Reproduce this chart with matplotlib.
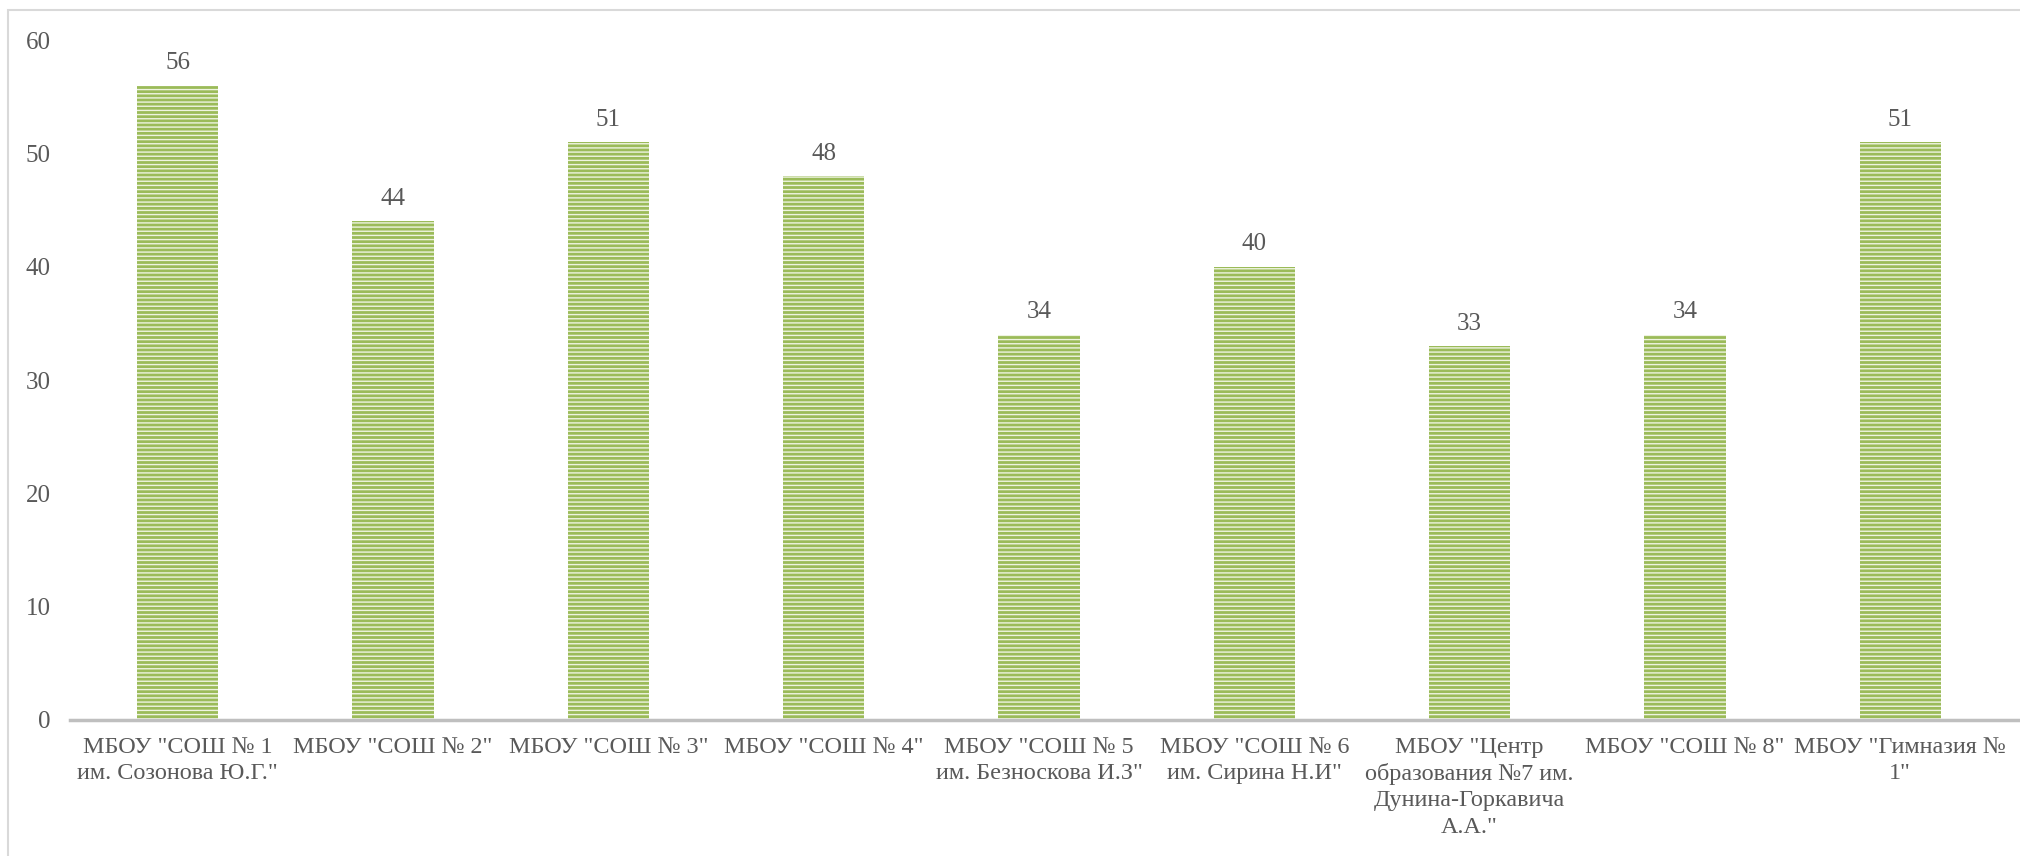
import matplotlib
matplotlib.use("Agg")
import matplotlib.pyplot as plt
from matplotlib.patches import Rectangle

schools = [
    'МБОУ "СОШ № 1\nим. Созонова Ю.Г."',
    'МБОУ "СОШ № 2"',
    'МБОУ "СОШ № 3"',
    'МБОУ "СОШ № 4"',
    'МБОУ "СОШ № 5\nим. Безноскова И.З"',
    'МБОУ "СОШ № 6\nим. Сирина Н.И"',
    'МБОУ "Центр\nобразования №7 им.\nДунина-Горкавича\nА.А."',
    'МБОУ "СОШ № 8"',
    'МБОУ "Гимназия №\n1"',
]
values = [56, 44, 51, 48, 34, 40, 33, 34, 51]
yticks = [0, 10, 20, 30, 40, 50, 60]

text_color = "#595959"
plt.rcParams["font.family"] = ["Liberation Serif", "DejaVu Serif"]
plt.rcParams["hatch.linewidth"] = 1.0

fig = plt.figure(figsize=(20.2, 8.56), dpi=100)
# light frame around the chart area
fig.patches.append(Rectangle((0.004, -0.1), 1.1, 1.088, transform=fig.transFigure,
                             fill=False, edgecolor="#d9d9d9", linewidth=1.5))
ax = fig.add_axes([0.0347, 0.159, 0.9653, 0.794])

x = range(len(values))
ax.bar(x, values, width=0.377, color="#9bbb59", edgecolor="#eef4e0",
       linewidth=0, hatch="----")

for xi, v in zip(x, values):
    ax.text(xi, v + 1.0, str(v), ha="center", va="bottom", fontsize=18, color=text_color)

ax.set_xlim(-0.5, 8.556)
ax.set_ylim(0, 60)
ax.set_yticks(yticks)
ax.set_xticks(list(x))
ax.set_xticklabels(schools, fontsize=17.4, color=text_color, linespacing=1.33)
ax.tick_params(axis="y", length=0, pad=14, labelsize=18, labelcolor=text_color)
ax.tick_params(axis="x", length=0, pad=12)

for s in ["top", "right", "left"]:
    ax.spines[s].set_visible(False)
ax.spines["bottom"].set_color("#bfbfbf")
ax.spines["bottom"].set_linewidth(2.5)

fig.savefig("out.png", dpi=100)
